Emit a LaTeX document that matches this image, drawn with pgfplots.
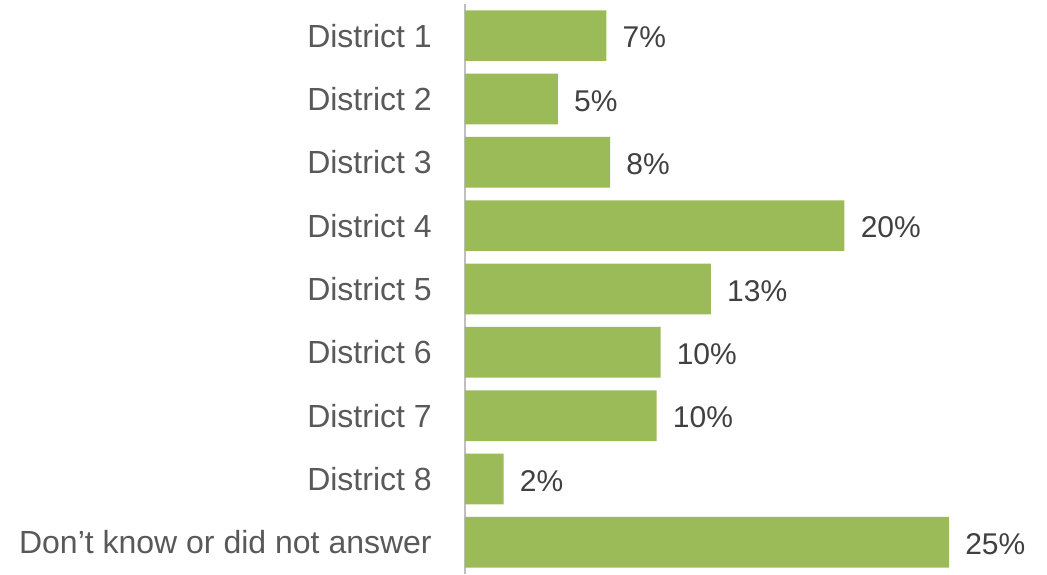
\documentclass[border=0pt]{standalone}
\usepackage{pgfplots}
\pgfplotsset{compat=1.18}
\usepackage{fontspec}
\setmainfont{Liberation Sans}
\definecolor{barc}{HTML}{9BBB59}
\definecolor{lab}{HTML}{595959}
\definecolor{val}{HTML}{404040}
\definecolor{axc}{HTML}{BFBFBF}
\begin{document}
\begin{tikzpicture}
\begin{axis}[
 scale only axis, width=436.5pt, height=427.5pt,
 xbar, bar width=38pt,
 xmin=0, xmax=30.06, ymin=-0.5, ymax=8.5, y dir=reverse,
 axis x line=none, axis y line*=left,
 y axis line style={-, draw=axc, line width=1.1pt},
 ytick={0,...,8},
 yticklabels={District 1,District 2,District 3,District 4,District 5,District 6,District 7,District 8,Don't know or did not answer},
 major tick length=0pt,
 yticklabel style={font=\fontsize{24}{28}\selectfont, text=lab, inner sep=0pt, xshift=-24.75pt},
 point meta=explicit symbolic,
 nodes near coords={\pgfplotspointmeta\%},
 every node near coord/.append style={font=\fontsize{22.5}{26}\selectfont, text=val, anchor=west, inner sep=0pt, xshift=12pt, yshift=-1.5pt},
 clip=false,
]
\addplot[fill=barc, draw=none] table[x=v, y=y, meta=l] {
y v l
0 7.3 7
1 4.8 5
2 7.5 8
3 19.6 20
4 12.7 13
5 10.1 10
6 9.9 10
7 2.0 2
8 25.0 25
};
\end{axis}
\path (current axis.south west) ++(-348.75pt,-0.3pt) rectangle ([yshift=3pt]current axis.north east);
\end{tikzpicture}
\end{document}
